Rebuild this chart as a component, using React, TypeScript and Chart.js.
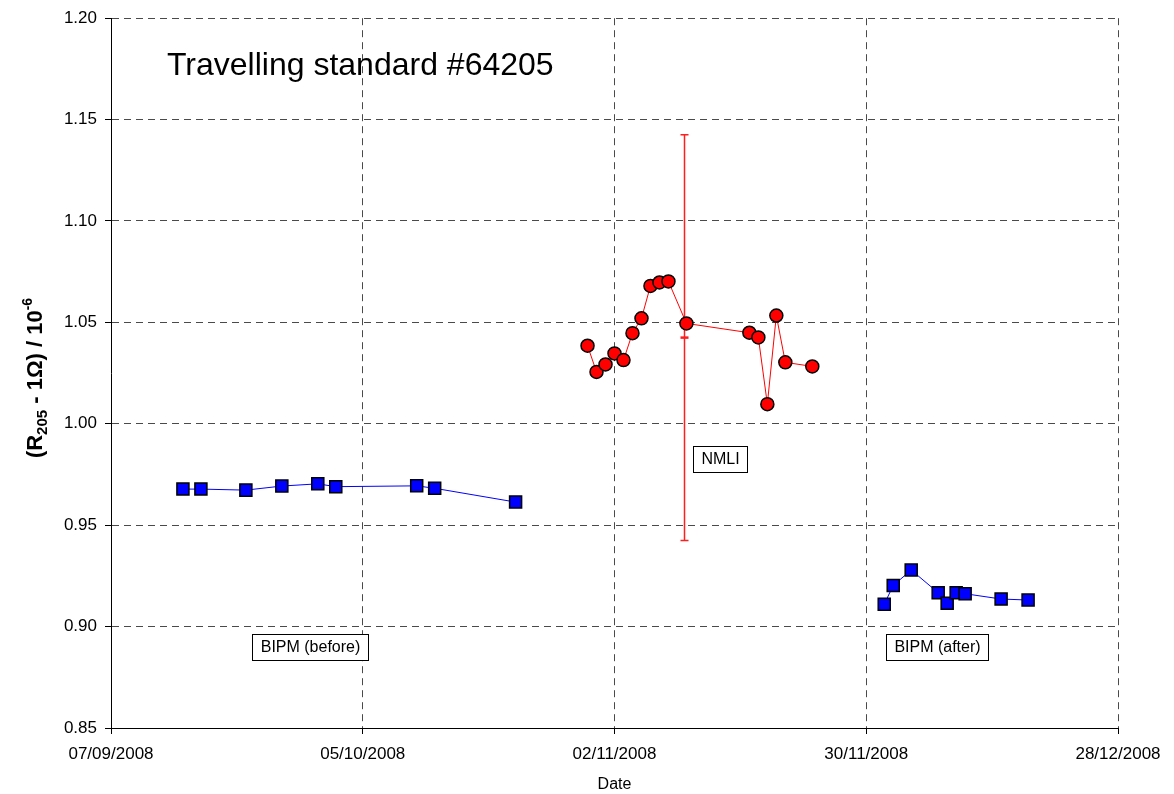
import React, { useEffect, useRef } from "react";
import { Chart, registerables } from "chart.js";

Chart.register(...registerables);

// ---- data ----
const xTickLabels = ["07/09/2008", "05/10/2008", "02/11/2008", "30/11/2008", "28/12/2008"];
const yTickLabels = ["0.85", "0.90", "0.95", "1.00", "1.05", "1.10", "1.15", "1.20"];

const beforeDates = [
  "2008-09-15", "2008-09-17", "2008-09-22", "2008-09-26", "2008-09-30",
  "2008-10-02", "2008-10-11", "2008-10-13", "2008-10-22",
];
const beforeValues = [0.9678, 0.9678, 0.9673, 0.9693, 0.9704, 0.969, 0.9694, 0.9682, 0.9614];

const nmliDates = [
  "2008-10-30", "2008-10-31", "2008-11-01", "2008-11-02", "2008-11-03", "2008-11-04",
  "2008-11-05", "2008-11-06", "2008-11-07", "2008-11-08", "2008-11-10", "2008-11-17",
  "2008-11-18", "2008-11-19", "2008-11-20", "2008-11-21", "2008-11-24",
];
const nmliValues = [
  1.0385, 1.0256, 1.0293, 1.0347, 1.0314, 1.0447, 1.052, 1.068, 1.0697, 1.0702,
  1.0495, 1.0449, 1.0426, 1.0097, 1.0534, 1.0303, 1.0283,
];

const afterDates = [
  "2008-12-02", "2008-12-03", "2008-12-05", "2008-12-08", "2008-12-09",
  "2008-12-10", "2008-12-11", "2008-12-15", "2008-12-18",
];
const afterValues = [0.911, 0.9203, 0.9279, 0.9167, 0.9115, 0.9167, 0.9162, 0.9136, 0.9131];

const errDate = "2008-11-09T18:00:00Z";
const errCenter = 1.0425;
const errHalfWidth = 0.1;

const chartTitle = "Travelling standard #64205";
const xTitle = "Date";
const labelBefore = "BIPM (before)";
const labelNmli = "NMLI";
const labelAfter = "BIPM (after)";

// ---- helpers ----
const EPOCH = Date.UTC(2008, 8, 7);
const dayOf = (s: string) =>
  (Date.parse(s.length === 10 ? s + "T00:00:00Z" : s) - EPOCH) / 86400000;
const toPoints = (dates: string[], vals: number[]) =>
  dates.map((d, i) => ({ x: dayOf(d), y: vals[i] }));

const FONT = "'Liberation Sans', Arial, Helvetica, sans-serif";

const overlay = {
  id: "overlay",
  beforeDatasetsDraw(chart: any) {
    const { ctx } = chart;
    const x = chart.scales.x;
    const y = chart.scales.y;
    const px = Math.round(x.getPixelForValue(dayOf(errDate))) + 0.5;
    const yt = y.getPixelForValue(errCenter + errHalfWidth);
    const yb = y.getPixelForValue(errCenter - errHalfWidth);
    const yc = y.getPixelForValue(errCenter);
    ctx.save();
    ctx.strokeStyle = "#FF1E1E";
    ctx.lineWidth = 1.5;
    ctx.beginPath();
    ctx.moveTo(px, yt);
    ctx.lineTo(px, yb);
    ctx.moveTo(px - 4, yt);
    ctx.lineTo(px + 4, yt);
    ctx.moveTo(px - 4, yb);
    ctx.lineTo(px + 4, yb);
    ctx.stroke();
    ctx.lineWidth = 2.5;
    ctx.beginPath();
    ctx.moveTo(px - 4, yc);
    ctx.lineTo(px + 4, yc);
    ctx.stroke();
    ctx.restore();
  },
  afterDraw(chart: any) {
    const { ctx, chartArea } = chart;
    ctx.save();
    ctx.fillStyle = "#000";

    // chart title
    ctx.font = `32px ${FONT}`;
    ctx.textAlign = "left";
    ctx.textBaseline = "alphabetic";
    ctx.fillText(chartTitle, 167, 75);

    // x title
    ctx.font = `16px ${FONT}`;
    ctx.textAlign = "center";
    ctx.textBaseline = "middle";
    ctx.fillText(xTitle, (chartArea.left + chartArea.right) / 2, 785);

    // y title with subscript / superscript
    const segs = [
      { t: "(R", f: `bold 22px ${FONT}`, dy: 0 },
      { t: "205", f: `bold 15px ${FONT}`, dy: 5 },
      { t: " - 1Ω) / 10", f: `bold 22px ${FONT}`, dy: 0 },
      { t: "-6", f: `bold 14px ${FONT}`, dy: -10 },
    ];
    let total = 0;
    const widths = segs.map((s) => {
      ctx.font = s.f;
      const w = ctx.measureText(s.t).width;
      total += w;
      return w;
    });
    ctx.translate(42, 378);
    ctx.rotate(-Math.PI / 2);
    ctx.textAlign = "left";
    ctx.textBaseline = "alphabetic";
    let cx = -total / 2;
    segs.forEach((s, i) => {
      ctx.font = s.f;
      ctx.fillText(s.t, cx, s.dy);
      cx += widths[i];
    });
    ctx.restore();

    // annotation boxes
    const box = (text: string, left: number, top: number) => {
      ctx.save();
      ctx.font = `16px ${FONT}`;
      const w = Math.round(ctx.measureText(text).width + 16);
      const h = 26;
      ctx.fillStyle = "#fff";
      ctx.fillRect(left, top, w, h);
      ctx.strokeStyle = "#000";
      ctx.lineWidth = 1;
      ctx.strokeRect(left + 0.5, top + 0.5, w, h);
      ctx.fillStyle = "#000";
      ctx.textAlign = "center";
      ctx.textBaseline = "middle";
      ctx.fillText(text, left + w / 2 + 0.5, top + h / 2 + 1);
      ctx.restore();
    };
    box(labelBefore, 252, 634);
    box(labelNmli, 693, 446);
    box(labelAfter, 886, 634);
  },
};

export default function App() {
  const ref = useRef<HTMLCanvasElement | null>(null);

  useEffect(() => {
    if (!ref.current) return;
    Chart.defaults.font.family = FONT;
    Chart.defaults.font.size = 16;
    Chart.defaults.color = "#000";

    const chart = new Chart(ref.current, {
      type: "line",
      data: {
        datasets: [
          {
            label: labelBefore,
            data: toPoints(beforeDates, beforeValues),
            borderColor: "#0000FF",
            borderWidth: 1,
            pointStyle: "rect",
            pointRadius: 8.5,
            pointBackgroundColor: "#0000FF",
            pointBorderColor: "#000",
            pointBorderWidth: 1.5,
            tension: 0,
          },
          {
            label: labelNmli,
            data: toPoints(nmliDates, nmliValues),
            borderColor: "#FF0000",
            borderWidth: 1,
            pointStyle: "circle",
            pointRadius: 6.5,
            pointBackgroundColor: "#FF0000",
            pointBorderColor: "#000",
            pointBorderWidth: 1.5,
            tension: 0,
          },
          {
            label: labelAfter,
            data: toPoints(afterDates, afterValues),
            borderColor: "#0000FF",
            borderWidth: 1,
            pointStyle: "rect",
            pointRadius: 8.5,
            pointBackgroundColor: "#0000FF",
            pointBorderColor: "#000",
            pointBorderWidth: 1.5,
            tension: 0,
          },
        ],
      },
      options: {
        responsive: false,
        animation: false,
        events: [],
        layout: { padding: { top: 18, right: 56, bottom: 0, left: 0 } },
        plugins: {
          legend: { display: false },
          tooltip: { enabled: false },
          title: { display: false },
        },
        scales: {
          x: {
            type: "linear",
            min: 0,
            max: 112,
            afterFit: (s: any) => {
              s.height = 66;
            },
            afterBuildTicks: (s: any) => {
              s.ticks = xTickLabels.map((_, i) => ({ value: i * 28 }));
            },
            ticks: {
              autoSkip: false,
              maxRotation: 0,
              padding: 10,
              font: { size: 17 },
              color: "#000",
              callback: (_v: any, i: number) => xTickLabels[i],
            },
            grid: {
              color: "#4a4a4a",
              lineWidth: 1,
              drawTicks: true,
              tickLength: 6,
              tickColor: "#000",
            },
            border: { display: true, color: "#000", width: 1, dash: [7, 5] },
          },
          y: {
            type: "linear",
            min: 0.85,
            max: 1.2,
            afterFit: (s: any) => {
              s.width = 111;
            },
            afterBuildTicks: (s: any) => {
              s.ticks = yTickLabels.map((l) => ({ value: parseFloat(l) }));
            },
            ticks: {
              autoSkip: false,
              padding: 8,
              font: { size: 17 },
              color: "#000",
              callback: (_v: any, i: number) => yTickLabels[i],
            },
            grid: {
              color: "#4a4a4a",
              lineWidth: 1,
              drawTicks: true,
              tickLength: 6,
              tickColor: "#000",
            },
            border: { display: true, color: "#000", width: 1, dash: [7, 5] },
          },
        },
      },
      plugins: [overlay],
    } as any);
    return () => chart.destroy();
  }, []);

  return (
    <div style={{ position: "fixed", left: 0, top: 0, width: 1174, height: 794, background: "#fff" }}>
      <canvas ref={ref} width={1174} height={794} style={{ display: "block" }} />
    </div>
  );
}
